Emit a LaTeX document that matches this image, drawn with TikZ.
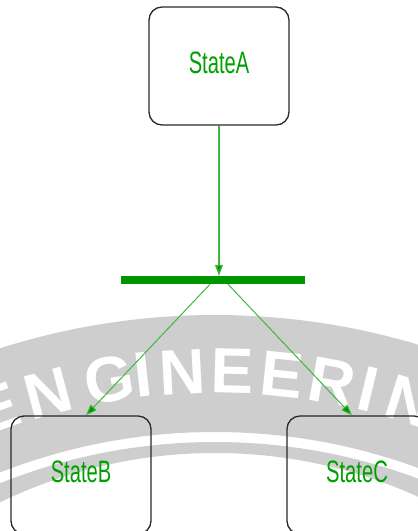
\documentclass[tikz,border=0pt]{standalone}
\usepackage{fontspec}
\setmainfont{Liberation Sans}
\usepackage{graphicx}
\usetikzlibrary{arrows.meta,calc}

\definecolor{stgreen}{RGB}{0,160,0}
\definecolor{linegreen}{RGB}{60,185,60}
\definecolor{bargreen}{RGB}{0,150,0}
\definecolor{wmgray}{RGB}{206,206,206}
\definecolor{boxline}{RGB}{40,40,40}

\begin{document}
\begin{tikzpicture}[x=1pt,y=-1pt,
  state/.style={draw=boxline, line width=1.3pt, rounded corners=13pt,
    minimum width=140pt, minimum height=118pt, inner sep=0pt,
    text=stgreen, text depth=6pt, font=\fontsize{31}{31}\selectfont},
  fork/.style={fill=bargreen, minimum width=184pt, minimum height=8pt, inner sep=0pt},
  flow/.style={draw=linegreen, line width=1pt,
    -{Triangle[length=11pt,width=8pt,fill=bargreen]}},
  wmletter/.style={text=white, inner sep=0pt,
    font=\fontsize{64}{64}\selectfont\bfseries}
]
\useasboundingbox (0,0) rectangle (418,531);

% background ring with lettering
\begin{scope}
  \clip (0,0) rectangle (418,531);
  \fill[wmgray, even odd rule] (215,1021) circle[radius=706] (215,1021) circle[radius=589];
  \fill[wmgray, even odd rule] (215,1021) circle[radius=579] (215,945) circle[radius=492];
  \foreach \ch/\xc in {E/-3, N/48, G/109, I/143, N/182, E/232, E/282, R/332, I/368, N/410}{
    \pgfmathsetmacro\th{asin((\xc-215)/650)}
    \node[wmletter, rotate=-\th] at ({215+650*sin(\th)}, {1021-650*cos(\th)}) {\ch};
  }
\end{scope}

% states and fork bar
\node[state] (A) at (219,66) {\scalebox{0.65}[1]{StateA}};
\node[state] (B) at (81,475) {\scalebox{0.65}[1]{StateB}};
\node[state] (C) at (357,475) {\scalebox{0.65}[1]{StateC}};
\node[fork] (bar) at (213,280) {};

% transitions
\coordinate (forkL) at ($(bar.south)+(-3,0)$);
\coordinate (forkR) at ($(bar.south)+(15,0)$);
\coordinate (inB) at ($(B.north)+(5,0)$);
\coordinate (inC) at ($(C.north)+(-5,0)$);
\draw[flow, line width=1.4pt] (A.south) -- (A.south |- bar.north);
\draw[flow] (forkL) -- (inB);
\draw[flow] (forkR) -- (inC);
\end{tikzpicture}
\end{document}
